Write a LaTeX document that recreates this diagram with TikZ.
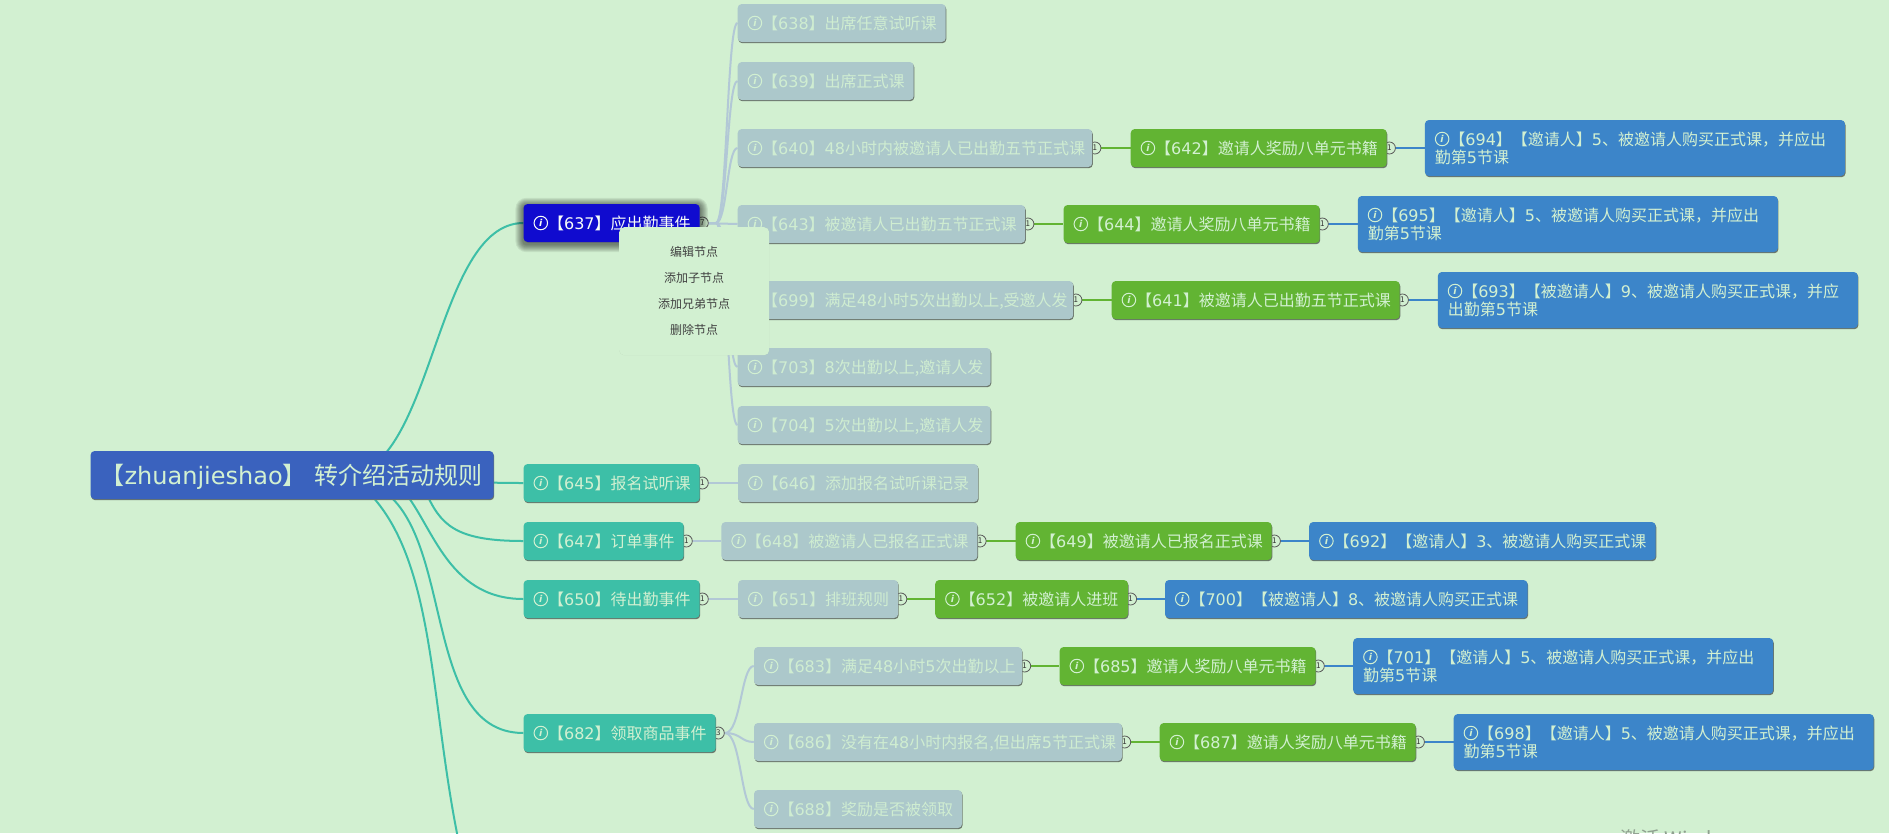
\documentclass[tikz,border=0pt]{standalone}
\usepackage{fontspec}
\setmainfont{Noto Sans CJK SC}
\newfontfamily\latinfont{DejaVu Sans}
\usetikzlibrary{backgrounds,shadows}
\definecolor{bgcol}{HTML}{D2F0D1}
\definecolor{rootcol}{HTML}{3A62BE}
\definecolor{tealcol}{HTML}{3DBFA7}
\definecolor{graycol}{HTML}{ACC8CB}
\definecolor{grayline}{HTML}{B2C8D6}
\definecolor{greencol}{HTML}{62B433}
\definecolor{bluecol}{HTML}{3C85C9}
\definecolor{selcol}{HTML}{100BCF}
\definecolor{edgecol}{HTML}{6A756A}
\newcommand{\la}[1]{{\latinfont #1}}
\newcommand{\ico}{\hspace*{14.5pt}}
\tikzset{
  topic/.style={anchor=west,rounded corners=4pt,inner xsep=10pt,inner ysep=0pt,minimum height=38pt,align=left,
    text height=15.5pt,text depth=2pt,text=bgcol,font=\fontsize{16}{18}\selectfont,
    general shadow={fill=edgecol,shadow xshift=.6pt,shadow yshift=-1.2pt}},
  graytopic/.style={topic,fill=graycol,text=bgcol!92!graycol},
  tealtopic/.style={topic,fill=tealcol},
  greentopic/.style={topic,fill=greencol},
  bluetopic/.style={topic,fill=bluecol},
  bluewide/.style={topic,fill=bluecol,text width=400pt,minimum height=56pt,text height=,text depth=},
  rootlink/.style={draw=tealcol,line width=2pt},
  graylink/.style={draw=grayline,line width=2pt},
  greenlink/.style={draw=greencol,line width=2pt},
  bluelink/.style={draw=bluecol,line width=2pt},
  expander/.style={circle,draw=black!65,fill=bgcol,line width=.8pt,minimum size=12pt,inner sep=0pt,text=black!80,font=\fontsize{8}{8}\selectfont},
  infoicon/.style={circle,draw=bgcol,line width=1pt,minimum size=13.5pt,inner sep=0pt,text=bgcol,font=\latinfont\itshape\bfseries\fontsize{9.5}{10}\selectfont},
  menuitem/.style={text=black!75,font=\fontsize{12}{14}\selectfont}
}
\begin{document}
\begin{tikzpicture}[x=1pt,y=-1pt]
  \useasboundingbox (0,0) rectangle (1889,833);
  % first row from the root
  \node[topic,fill=rootcol,text width=383pt,minimum height=48pt,text height=21pt,text depth=3pt,font=\fontsize{24}{28}\selectfont] (root) at (90.4,475) {【\la{zhuanjieshao}】 转介绍活动规则};
  \coordinate (offpage) at (490,950);
  \node[topic,fill=selcol,text=white!85!bgcol,text width=156pt,general shadow={fill=none}] (n637) at (523.4,223) {\ico【\la{637}】应出勤事件};
  \node[tealtopic,text width=156pt] (n645) at (523.4,483) {\ico【\la{645}】报名试听课};
  \node[tealtopic,text width=140pt] (n647) at (523.4,541) {\ico【\la{647}】订单事件};
  \node[tealtopic,text width=156pt] (n650) at (523.4,599) {\ico【\la{650}】待出勤事件};
  \node[tealtopic,text width=172pt] (n682) at (523.4,733) {\ico【\la{682}】领取商品事件};
  % children of 637
  \node[graytopic,text width=188pt] (n638) at (737.5,23) {\ico【\la{638}】出席任意试听课};
  \node[graytopic,text width=156pt] (n639) at (737.5,81) {\ico【\la{639}】出席正式课};
  \node[graytopic,text width=334.5pt] (n640) at (737.5,148) {\ico【\la{640}】\la{48}小时内被邀请人已出勤五节正式课};
  \node[graytopic,text width=267.5pt] (n643) at (737.5,224) {\ico【\la{643}】被邀请人已出勤五节正式课};
  \node[graytopic,text width=315.5pt] (n699) at (737.5,300) {\ico【\la{699}】满足\la{48}小时\la{5}次出勤以上,受邀人发};
  \node[graytopic,text width=233pt] (n703) at (737.5,367) {\ico【\la{703}】\la{8}次出勤以上,邀请人发};
  \node[graytopic,text width=233pt] (n704) at (737.5,425) {\ico【\la{704}】\la{5}次出勤以上,邀请人发};
  \node[greentopic,text width=236pt] (n642) at (1130.5,148) {\ico【\la{642}】邀请人奖励八单元书籍};
  \node[greentopic,text width=236pt] (n644) at (1063.4,224) {\ico【\la{644}】邀请人奖励八单元书籍};
  \node[greentopic,text width=268pt] (n641) at (1111.5,300) {\ico【\la{641}】被邀请人已出勤五节正式课};
  \node[bluewide] (n694) at (1424.7,148) {\ico【\la{694}】【邀请人】\la{5}、被邀请人购买正式课，并应出\\勤第\la{5}节课};
  \node[bluewide] (n695) at (1357.6,224) {\ico【\la{695}】【邀请人】\la{5}、被邀请人购买正式课，并应出\\勤第\la{5}节课};
  \node[bluewide] (n693) at (1437.6,300) {\ico【\la{693}】【被邀请人】\la{9}、被邀请人购买正式课，并应\\出勤第\la{5}节课};
  % other rows
  \node[graytopic,text width=220pt] (n646) at (737.9,483) {\ico【\la{646}】添加报名试听课记录};
  \node[graytopic,text width=236pt] (n648) at (721.2,541) {\ico【\la{648}】被邀请人已报名正式课};
  \node[greentopic,text width=236pt] (n649) at (1015.5,541) {\ico【\la{649}】被邀请人已报名正式课};
  \node[bluetopic,text width=326.5pt] (n692) at (1309,541) {\ico【\la{692}】【邀请人】\la{3}、被邀请人购买正式课};
  \node[graytopic,text width=140pt] (n651) at (737.9,599) {\ico【\la{651}】排班规则};
  \node[greentopic,text width=172.7pt] (n652) at (935,599) {\ico【\la{652}】被邀请人进班};
  \node[bluetopic,text width=342.5pt] (n700) at (1164.8,599) {\ico【\la{700}】【被邀请人】\la{8}、被邀请人购买正式课};
  % children of 682
  \node[graytopic,text width=248pt] (n683) at (753.8,666) {\ico【\la{683}】满足\la{48}小时\la{5}次出勤以上};
  \node[greentopic,text width=236pt] (n685) at (1059.4,666) {\ico【\la{685}】邀请人奖励八单元书籍};
  \node[bluewide] (n701) at (1353,666) {\ico【\la{701}】【邀请人】\la{5}、被邀请人购买正式课，并应出\\勤第\la{5}节课};
  \node[graytopic,text width=348pt] (n686) at (753.8,742) {\ico【\la{686}】没有在\la{48}小时内报名,但出席\la{5}节正式课};
  \node[greentopic,text width=236pt] (n687) at (1159.5,742) {\ico【\la{687}】邀请人奖励八单元书籍};
  \node[bluewide] (n698) at (1453.5,742) {\ico【\la{698}】【邀请人】\la{5}、被邀请人购买正式课，并应出\\勤第\la{5}节课};
  \node[graytopic,text width=188pt] (n688) at (753.8,809) {\ico【\la{688}】奖励是否被领取};
  % info icons
  \foreach \n in {n645,n647,n650,n682,n638,n639,n640,n643,n699,n703,n704,n642,n644,n641,n646,n648,n649,n692,n651,n652,n700,n683,n685,n686,n687,n688}
    \node[infoicon] (i\n) at ([xshift=17.4pt]\n.west) {i};
  \foreach \n in {n694,n695,n693,n701,n698}
    \node[infoicon] (i\n) at ([xshift=17.4pt,yshift=9pt]\n.west) {i};
  \node[infoicon,draw=white!85!bgcol,text=white!85!bgcol] (in637) at ([xshift=17.4pt]n637.west) {i};
  % popup menu
  \node[anchor=north west,rounded corners=5pt,fill=bgcol,minimum width=150pt,minimum height=128pt,inner sep=0pt,
    general shadow={fill=black!45!bgcol,opacity=.25,scale=1.01}] (menu) at (619,227) {};
  \node[menuitem] (menu1) at (694,252) {编辑节点};
  \node[menuitem] (menu2) at (694,278) {添加子节点};
  \node[menuitem] (menu3) at (694,304) {添加兄弟节点};
  \node[menuitem] (menu4) at (694,330) {删除节点};
  \node[anchor=base west,text=black!30!bgcol!80!gray,inner sep=0pt,font=\fontsize{20}{24}\selectfont] (watermark) at (1620,846) {激活 Windows};
  \begin{pgfonlayer}{background}
    \fill[bgcol] (0,0) rectangle (1889,833);
    % root connectors
    \draw[rootlink] (345,475) .. controls (434,475) and (434,223) .. (n637.west);
    \draw[rootlink] (345,475) .. controls (434,475) and (434,483) .. (n645.west);
    \draw[rootlink] (425,490) .. controls (440,525) and (455,541) .. (n647.west);
    \draw[rootlink] (400,487) .. controls (432,520) and (445,599) .. (n650.west);
    \draw[rootlink] (365,482) .. controls (460,510) and (415,733) .. (n682.west);
    \draw[rootlink] (340,470) .. controls (460,540) and (415,760) .. (offpage);
    % gray connectors
    \draw[graylink] (n637.east) -- (716,223) .. controls (727,223) and (727,23) .. (n638.west);
    \draw[graylink] (n637.east) -- (716,223) .. controls (727,223) and (727,81) .. (n639.west);
    \draw[graylink] (n637.east) -- (716,223) .. controls (727,223) and (727,148) .. (n640.west);
    \draw[graylink] (n637.east) -- (n643.west);
    \draw[graylink] (n637.east) -- (716,223) .. controls (727,223) and (727,300) .. (n699.west);
    \draw[graylink] (n637.east) -- (716,223) .. controls (727,223) and (727,367) .. (n703.west);
    \draw[graylink] (n637.east) -- (716,223) .. controls (727,223) and (727,425) .. (n704.west);
    \draw[graylink] (n645.east) -- (n646.west);
    \draw[graylink] (n647.east) -- (n648.west);
    \draw[graylink] (n650.east) -- (n651.west);
    \draw[graylink] (n682.east) -- (725,733) .. controls (741,733) and (741,666) .. (n683.west);
    \draw[graylink] (n682.east) -- (725,733) .. controls (741,733) and (741,742) .. (n686.west);
    \draw[graylink] (n682.east) -- (725,733) .. controls (741,733) and (741,809) .. (n688.west);
    % green and blue connectors
    \draw[greenlink] (n640.east) -- (n642.west);
    \draw[greenlink] (n643.east) -- (n644.west);
    \draw[greenlink] (n699.east) -- (n641.west);
    \draw[greenlink] (n648.east) -- (n649.west);
    \draw[greenlink] (n651.east) -- (n652.west);
    \draw[greenlink] (n683.east) -- (n685.west);
    \draw[greenlink] (n686.east) -- (n687.west);
    \draw[bluelink] (n642.east) -- (n694.west);
    \draw[bluelink] (n644.east) -- (n695.west);
    \draw[bluelink] (n641.east) -- (n693.west);
    \draw[bluelink] (n649.east) -- (n692.west);
    \draw[bluelink] (n652.east) -- (n700.west);
    \draw[bluelink] (n685.east) -- (n701.west);
    \draw[bluelink] (n687.east) -- (n698.west);
    % expanders
    \foreach \n/\c in {n637/7,n640/1,n643/1,n699/1,n642/1,n644/1,n641/1,n645/1,n647/1,n648/1,n649/1,n650/1,n651/1,n652/1,n682/3,n683/1,n685/1,n686/1,n687/1}
      \node[expander] (x\n) at ([xshift=2.5pt]\n.east) {\c};
    % glow of the selected node
    \foreach \r in {8,7,...,1}
      \fill[black,opacity=.07,rounded corners=\r pt+3pt] ([shift={(-\r pt,-2pt-\r pt)}]n637.south west) rectangle ([shift={(\r pt,\r pt-2pt)}]n637.north east);
  \end{pgfonlayer}
\end{tikzpicture}
\end{document}
